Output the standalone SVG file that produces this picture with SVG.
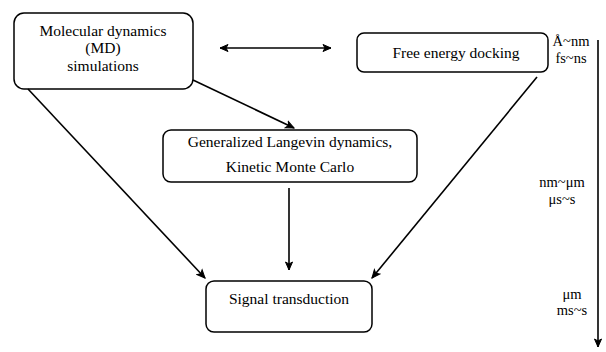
<svg xmlns="http://www.w3.org/2000/svg" width="606" height="352" viewBox="0 0 606 352">
<style>
.box{fill:#fff;stroke:#000;stroke-width:1.5}
.t{font-family:'Liberation Serif','DejaVu Serif',serif;font-size:15.5px;fill:#000;text-anchor:middle}
.s{font-family:'Liberation Serif','DejaVu Serif',serif;font-size:14.5px;fill:#000;text-anchor:middle}
.c{stroke:#000;stroke-width:1.6;fill:none}
</style>
<defs>
<marker id="ah" markerWidth="10" markerHeight="10" refX="9" refY="5" orient="auto-start-reverse" markerUnits="userSpaceOnUse">
<path d="M1,1.5 L9,5 L1,8.5 L3,5 Z" fill="#000" stroke="#000" stroke-width="1"/>
</marker>
</defs>
<g id="md">
<rect class="box" x="14" y="13" width="179" height="76" rx="10"/>
<text class="t" x="103" y="36">Molecular dynamics</text>
<text class="t" x="103" y="53">(MD)</text>
<text class="t" x="103" y="71">simulations</text>
</g>
<g id="fed">
<rect class="box" x="357" y="33" width="191" height="39" rx="7"/>
<text class="t" x="456" y="58">Free energy docking</text>
</g>
<g id="gld">
<rect class="box" x="163" y="130" width="254" height="52" rx="8"/>
<text class="t" x="290" y="147">Generalized Langevin dynamics,</text>
<text class="t" x="290" y="172">Kinetic Monte Carlo</text>
</g>
<g id="st">
<rect class="box" x="206" y="281" width="166" height="51" rx="8"/>
<text class="t" x="289" y="304">Signal transduction</text>
</g>
<g id="scale">
<text class="s" x="571" y="46">Å~nm</text>
<text class="s" x="571" y="63">fs~ns</text>
<text class="s" x="562" y="187">nm~μm</text>
<text class="s" x="562" y="204">μs~s</text>
<text class="s" x="572" y="299">μm</text>
<text class="s" x="572" y="315">ms~s</text>
</g>
<g id="connectors">
<line class="c" x1="220" y1="48" x2="331" y2="48" marker-start="url(#ah)" marker-end="url(#ah)"/>
<line class="c" x1="28" y1="89" x2="205" y2="278" marker-end="url(#ah)"/>
<line class="c" x1="193" y1="80" x2="294" y2="128" marker-end="url(#ah)"/>
<line class="c" x1="289" y1="188" x2="289" y2="270" marker-end="url(#ah)"/>
<line class="c" x1="537" y1="77" x2="372" y2="278" marker-end="url(#ah)"/>
<line class="c" x1="598" y1="40" x2="598" y2="347" marker-end="url(#ah)"/>
</g>
</svg>
